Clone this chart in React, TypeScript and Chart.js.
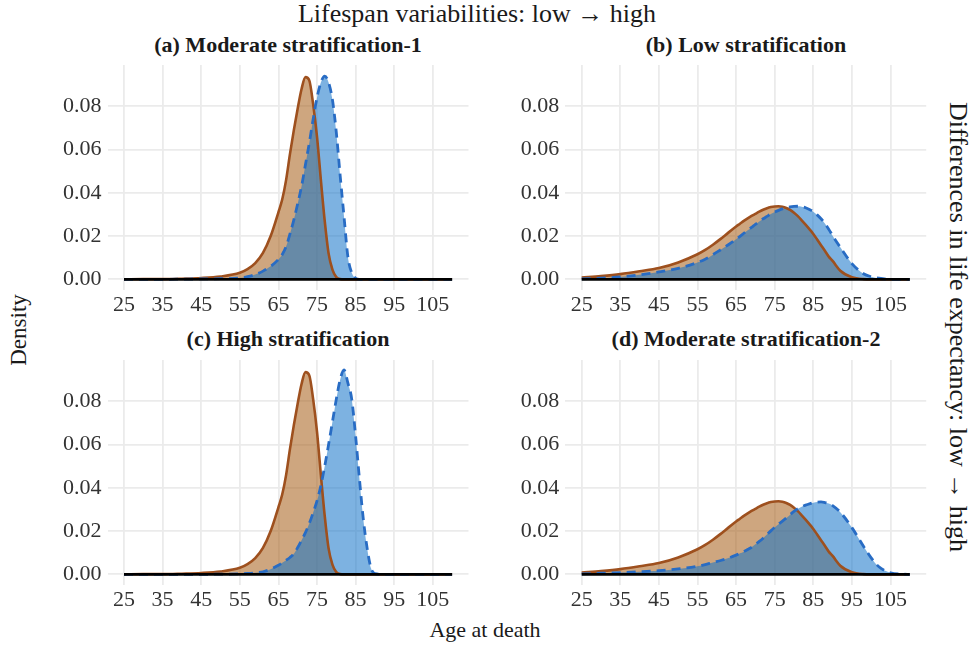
import React, { useEffect, useRef } from "react";
import { Chart, registerables } from "chart.js";

Chart.register(...registerables);

// ---------- data ----------
const AGES = [25, 30, 35, 40, 45, 50, 55, 57, 59, 61, 63, 65, 66, 67, 68, 69, 70, 71, 72, 73, 74, 75, 76, 77, 78, 79, 80, 81, 82, 83, 84, 85, 86, 87, 88, 89, 90, 92, 95, 98, 100, 102, 105, 108, 110];

const X_TICKS = [25, 35, 45, 55, 65, 75, 85, 95, 105];
const Y_TICKS = [0, 0.02, 0.04, 0.06, 0.08];

const PANEL_TITLES = [
  "(a) Moderate stratification-1",
  "(b) Low stratification",
  "(c) High stratification",
  "(d) Moderate stratification-2",
];

// narrow distribution (panels a, c) - lower group
const ORANGE_NARROW = [0, 0.0001, 0.0001, 0.0003, 0.0006, 0.0013, 0.003, 0.0047, 0.0075, 0.0122, 0.02, 0.031, 0.037, 0.046, 0.058, 0.069, 0.079, 0.088, 0.0935, 0.092, 0.081, 0.066, 0.046, 0.027, 0.012, 0.0045, 0.001, 0.0001, 0, 0, 0, 0, 0, 0, 0, 0, 0, 0, 0, 0, 0, 0, 0, 0, 0];

const BLUE_A = [0, 0, 0, 0.0001, 0.0002, 0.0003, 0.0006, 0.0012, 0.0022, 0.0038, 0.006, 0.0092, 0.0115, 0.0152, 0.021, 0.0275, 0.035, 0.043, 0.053, 0.063, 0.074, 0.084, 0.091, 0.094, 0.091, 0.083, 0.068, 0.048, 0.029, 0.0105, 0.003, 0.0005, 0, 0, 0, 0, 0, 0, 0, 0, 0, 0, 0, 0, 0];

const BLUE_C = [0, 0, 0, 0, 0, 0.0001, 0.0002, 0.0004, 0.0007, 0.0012, 0.0024, 0.0042, 0.0053, 0.0065, 0.0078, 0.0095, 0.0124, 0.0158, 0.0193, 0.0235, 0.0285, 0.034, 0.041, 0.05, 0.06, 0.0705, 0.081, 0.09, 0.0945, 0.0885, 0.081, 0.064, 0.044, 0.0255, 0.012, 0.0028, 0.0003, 0, 0, 0, 0, 0, 0, 0, 0];

// wide distribution (panels b, d) - lower group
const ORANGE_WIDE = [0.0008, 0.0015, 0.0024, 0.0037, 0.0052, 0.0078, 0.0116, 0.0136, 0.016, 0.0187, 0.0216, 0.0244, 0.0257, 0.027, 0.0282, 0.0293, 0.0303, 0.0313, 0.0322, 0.0329, 0.0334, 0.0337, 0.0338, 0.0336, 0.033, 0.0321, 0.0308, 0.0292, 0.0273, 0.0253, 0.0232, 0.021, 0.0184, 0.0158, 0.0132, 0.0105, 0.0085, 0.004, 0.001, 0.0001, 0, 0, 0, 0, 0];

const BLUE_B = [0.0002, 0.0005, 0.0011, 0.0021, 0.0034, 0.0051, 0.0078, 0.0093, 0.0114, 0.0137, 0.016, 0.0185, 0.0199, 0.0213, 0.0227, 0.024, 0.0254, 0.0267, 0.028, 0.0291, 0.0302, 0.0311, 0.0319, 0.0326, 0.0331, 0.0335, 0.0337, 0.0338, 0.0336, 0.0331, 0.0323, 0.0313, 0.0298, 0.028, 0.0258, 0.0232, 0.0202, 0.0148, 0.0073, 0.0026, 0.0012, 0.0005, 0, 0, 0];

const BLUE_D = [0.0002, 0.0005, 0.0008, 0.0012, 0.0017, 0.0025, 0.0037, 0.0045, 0.0055, 0.0064, 0.0075, 0.0089, 0.0097, 0.0105, 0.0115, 0.0125, 0.0139, 0.0152, 0.0167, 0.0184, 0.0201, 0.0217, 0.0232, 0.0246, 0.026, 0.0276, 0.0291, 0.0303, 0.0313, 0.032, 0.0326, 0.0331, 0.0334, 0.0335, 0.0332, 0.0327, 0.0318, 0.0287, 0.0216, 0.013, 0.0076, 0.0035, 0.0007, 0.0001, 0];

// ---------- style ----------
const SERIF = '"Liberation Serif", "Times New Roman", Times, serif';
const ORANGE_LINE = "rgb(158,80,30)";
const ORANGE_FILL = "rgba(166,92,22,0.55)";
const BLUE_LINE = "rgb(40,108,196)";
const BLUE_FILL = "rgba(19,115,200,0.55)";
const GRID = "#EBEBEB";

type PanelProps = {
  left: number;
  top: number;
  width: number;
  height: number;
  yAxisWidth: number;
  rightPad: number;
  orange: number[];
  blue: number[];
};

function Panel({ left, top, width, height, yAxisWidth, rightPad, orange, blue }: PanelProps) {
  const ref = useRef<HTMLCanvasElement | null>(null);
  useEffect(() => {
    if (!ref.current) return;
    const toPts = (arr: number[]) => AGES.map((a, i) => ({ x: a, y: arr[i] }));
    const chart = new Chart(ref.current, {
      type: "line",
      data: {
        datasets: [
          {
            data: AGES.map((a) => ({ x: a, y: 0 })),
            borderColor: "#000",
            borderWidth: 2.6,
            pointRadius: 0,
            fill: false,
          },
          {
            data: toPts(blue),
            borderColor: BLUE_LINE,
            borderWidth: 2.8,
            borderDash: [9, 6],
            backgroundColor: BLUE_FILL,
            fill: "origin",
            pointRadius: 0,
            cubicInterpolationMode: "monotone",
          },
          {
            data: toPts(orange),
            borderColor: ORANGE_LINE,
            borderWidth: 2.6,
            backgroundColor: ORANGE_FILL,
            fill: "origin",
            pointRadius: 0,
            cubicInterpolationMode: "monotone",
          },
        ],
      } as any,
      options: {
        responsive: false,
        animation: false,
        devicePixelRatio: 1,
        layout: { padding: { top: 5, right: rightPad, left: 0, bottom: 0 } },
        plugins: {
          legend: { display: false },
          tooltip: { enabled: false },
          filler: { drawTime: "beforeDatasetsDraw" },
        } as any,
        scales: {
          x: {
            type: "linear",
            min: 20.75,
            max: 114.25,
            afterBuildTicks: (s: any) => {
              s.ticks = X_TICKS.map((v) => ({ value: v }));
            },
            afterFit: (s: any) => {
              s.height = 30.5;
              s.paddingLeft = 0;
              s.paddingRight = 0;
            },
            grid: { color: GRID, lineWidth: 1.8, drawTicks: false },
            border: { display: false },
            ticks: {
              padding: 3,
              color: "#333",
              font: { family: SERIF, size: 22 },
              maxRotation: 0,
              autoSkip: false,
              callback: (v: any) => String(v),
            },
          },
          y: {
            type: "linear",
            min: -0.0047,
            max: 0.0991,
            afterBuildTicks: (s: any) => {
              s.ticks = Y_TICKS.map((v) => ({ value: v }));
            },
            afterFit: (s: any) => {
              s.width = yAxisWidth;
              s.paddingTop = 0;
              s.paddingBottom = 0;
            },
            grid: { color: GRID, lineWidth: 1.8, drawTicks: false },
            border: { display: false },
            ticks: {
              padding: 6,
              color: "#333",
              font: { family: SERIF, size: 22 },
              callback: (v: any) => Number(v).toFixed(2),
            },
          },
        },
      } as any,
    });
    return () => chart.destroy();
  }, []);
  return (
    <canvas
      ref={ref}
      width={width}
      height={height}
      style={{ position: "absolute", left, top, width, height }}
    />
  );
}

const textBase: React.CSSProperties = {
  position: "absolute",
  fontFamily: SERIF,
  color: "#1a1a1a",
  whiteSpace: "nowrap",
  lineHeight: 1,
};

function Label({ x, y, text, size, bold, rotate }: { x: number; y: number; text: string; size: number; bold?: boolean; rotate?: number }) {
  return (
    <div
      style={{
        ...textBase,
        left: x,
        top: y,
        fontSize: size,
        fontWeight: bold ? "bold" : "normal",
        transform: `translate(-50%, -50%) rotate(${rotate || 0}deg)`,
      }}
    >
      {text}
    </div>
  );
}

export default function App() {
  return (
    <div style={{ position: "absolute", left: 0, top: 0, width: 974, height: 646, background: "#fff", overflow: "hidden" }}>
      <Panel left={40} top={60} width={440} height={260} yAxisWidth={67.6} rightPad={11.5} orange={ORANGE_NARROW} blue={BLUE_A} />
      <Panel left={500} top={60} width={440} height={260} yAxisWidth={65.3} rightPad={13.8} orange={ORANGE_WIDE} blue={BLUE_B} />
      <Panel left={40} top={355} width={440} height={260} yAxisWidth={67.6} rightPad={11.5} orange={ORANGE_NARROW} blue={BLUE_C} />
      <Panel left={500} top={355} width={440} height={260} yAxisWidth={65.3} rightPad={13.8} orange={ORANGE_WIDE} blue={BLUE_D} />

      <Label x={477} y={14} text="Lifespan variabilities: low → high" size={26} />
      <Label x={288} y={45} text={PANEL_TITLES[0]} size={22} bold />
      <Label x={746} y={45} text={PANEL_TITLES[1]} size={22} bold />
      <Label x={288} y={339} text={PANEL_TITLES[2]} size={22} bold />
      <Label x={746} y={339} text={PANEL_TITLES[3]} size={22} bold />
      <Label x={485} y={630} text="Age at death" size={22} />
      <Label x={18} y={330} text="Density" size={23} rotate={-90} />
      <Label x={958} y={327} text="Differences in life expectancy: low → high" size={26} rotate={90} />
    </div>
  );
}
